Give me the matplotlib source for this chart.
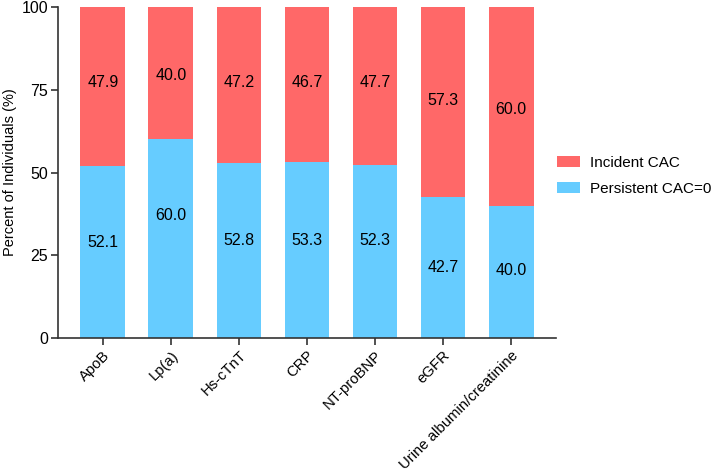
import matplotlib
matplotlib.use('Agg')
import matplotlib.pyplot as plt
import numpy as np

plt.rcParams['font.family'] = ['Liberation Sans', 'DejaVu Sans']

# dados
categorias = ['ApoB', 'Lp(a)', 'Hs-cTnT', 'CRP', 'NT-proBNP', 'eGFR',
              'Urine albumin/creatinine']
persistente = [52.1, 60.0, 52.8, 53.3, 52.3, 42.7, 40.0]
incidente = [47.9, 40.0, 47.2, 46.7, 47.7, 57.3, 60.0]

# posicao vertical dos rotulos
pos_inc = [77.3, 79.2, 77.3, 77.3, 77.3, 71.9, 68.9]
pos_per = [28.8, 36.9, 29.4, 29.4, 29.4, 21.4, 20.5]

cor_inc = '#FF6868'
cor_per = '#66CCFF'

fig = plt.figure(figsize=(7.16, 4.71), dpi=100)
ax = fig.add_axes([0.081, 0.2824, 0.6955, 0.7026])

x = np.arange(len(categorias))
largura = 0.66

b1 = ax.bar(x, persistente, largura, color=cor_per, label='Persistent CAC=0')
b2 = ax.bar(x, incidente, largura, bottom=persistente, color=cor_inc,
            label='Incident CAC')

for xi, p, i, yp, yi in zip(x, persistente, incidente, pos_per, pos_inc):
    ax.text(xi, yp, f'{p:.1f}', ha='center', va='center', fontsize=11.5)
    ax.text(xi, yi, f'{i:.1f}', ha='center', va='center', fontsize=11.5)

ax.set_xlim(-0.66, 6.66)
ax.set_ylim(0, 100)
ax.set_yticks([0, 25, 50, 75, 100])
ax.set_xticks(x)
ax.set_xticklabels(categorias, rotation=45, ha='right', rotation_mode='anchor',
                   fontsize=10.7)
ax.tick_params(axis='y', labelsize=11.5, length=5, width=1.2, color='#333333',
               pad=2)
ax.tick_params(axis='x', length=5, width=1.2, color='#333333', pad=2.5)
ax.set_ylabel('Percent of Individuals (%)', fontsize=10.5, labelpad=3)

for s in ['top', 'right']:
    ax.spines[s].set_visible(False)
for s in ['left', 'bottom']:
    ax.spines[s].set_linewidth(1.2)
    ax.spines[s].set_color('#333333')

handles = [b2, b1]
fig.legend(handles, ['Incident CAC', 'Persistent CAC=0'], frameon=False,
           fontsize=11, loc='center left',
           bbox_to_anchor=(557 / 716, 1 - 176 / 471),
           borderpad=0, borderaxespad=0,
           handlelength=1.5, handleheight=0.7, handletextpad=0.65,
           labelspacing=0.8)

plt.savefig('out.png', dpi=100)
plt.close()
